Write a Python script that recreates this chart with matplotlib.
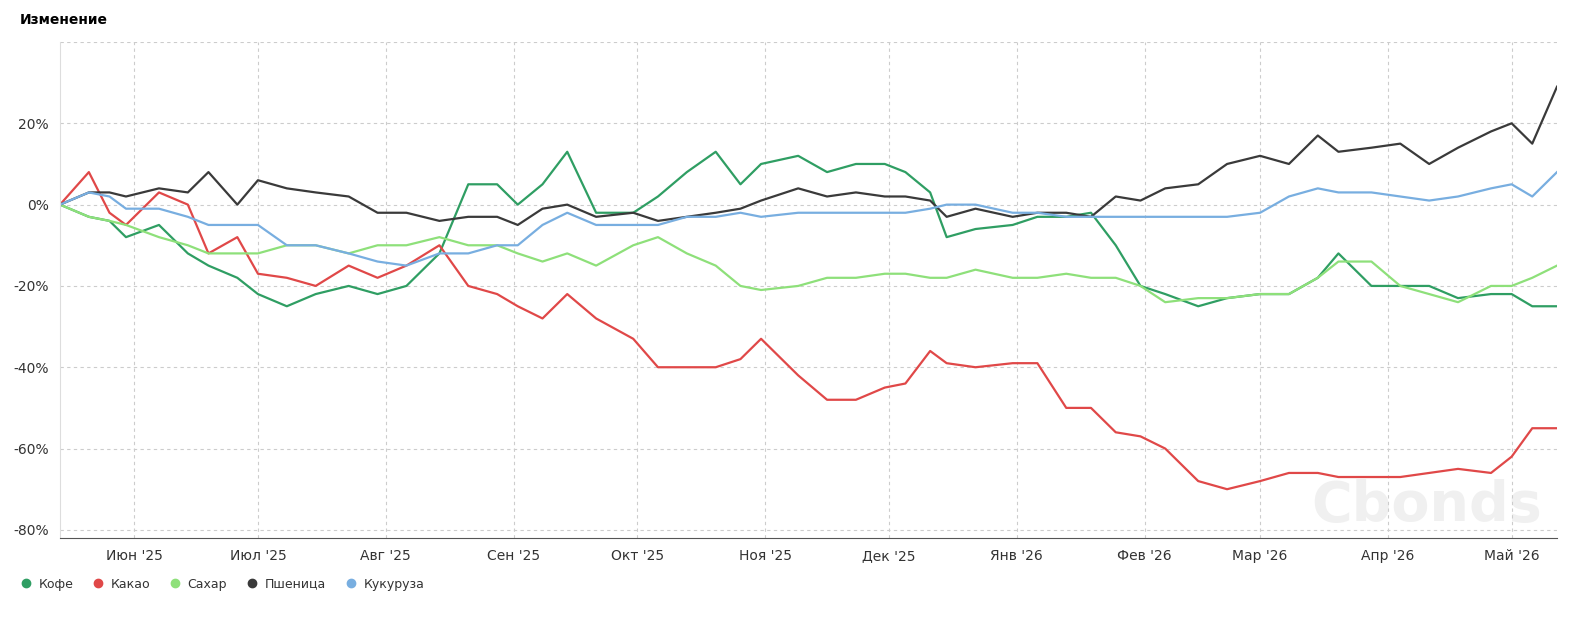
import matplotlib
matplotlib.use('Agg')
import matplotlib.pyplot as plt
from matplotlib.lines import Line2D
import pandas as pd

# data ==================================================================
dates = ['2025-05-14','2025-05-21','2025-05-26','2025-05-30','2025-06-07','2025-06-14',
         '2025-06-19','2025-06-26','2025-07-01','2025-07-08','2025-07-15','2025-07-23',
         '2025-07-30','2025-08-06','2025-08-14','2025-08-21','2025-08-28','2025-09-02',
         '2025-09-08','2025-09-14','2025-09-21','2025-09-30','2025-10-06','2025-10-13',
         '2025-10-20','2025-10-26','2025-10-31','2025-11-09','2025-11-16','2025-11-23',
         '2025-11-30','2025-12-05','2025-12-11','2025-12-15','2025-12-22','2025-12-31',
         '2026-01-06','2026-01-13','2026-01-19','2026-01-25','2026-01-31','2026-02-06',
         '2026-02-14','2026-02-21','2026-03-01','2026-03-08','2026-03-15','2026-03-20',
         '2026-03-28','2026-04-04','2026-04-11','2026-04-18','2026-04-26','2026-05-01',
         '2026-05-06','2026-05-12']
coffee = [0,-3,-4,-8,-5,-12,-15,-18,-22,-25, -22,-20,-22,-20,-12,5,5,0,5,13,
          -2,-2,2,8,13,5,10,12,8,10, 10,8,3,-8,-6,-5,-3,-3,-2,-10,
          -20,-22,-25,-23,-22,-22,-18,-12,-20,-20, -20,-23,-22,-22,-25,-25]
cocoa = [0,8,-2,-5,3,0,-12,-8,-17,-18, -20,-15,-18,-15,-10,-20,-22,-25,-28,-22,
         -28,-33,-40,-40,-40,-38,-33,-42,-48,-48, -45,-44,-36,-39,-40,-39,-39,-50,-50,-56,
         -57,-60,-68,-70,-68,-66,-66,-67,-67,-67, -66,-65,-66,-62,-55,-55]
sugar = [0,-3,-4,-5,-8,-10,-12,-12,-12,-10, -10,-12,-10,-10,-8,-10,-10,-12,-14,-12,
         -15,-10,-8,-12,-15,-20,-21,-20,-18,-18, -17,-17,-18,-18,-16,-18,-18,-17,-18,-18,
         -20,-24,-23,-23,-22,-22,-18,-14,-14,-20, -22,-24,-20,-20,-18,-15]
wheat = [0,3,3,2,4,3,8,0,6,4, 3,2,-2,-2,-4,-3,-3,-5,-1,0,
         -3,-2,-4,-3,-2,-1,1,4,2,3, 2,2,1,-3,-1,-3,-2,-2,-3,2,
         1,4,5,10,12,10,17,13,14,15, 10,14,18,20,15,29]
corn = [0,3,2,-1,-1,-3,-5,-5,-5,-10, -10,-12,-14,-15,-12,-12,-10,-10,-5,-2,
        -5,-5,-5,-3,-3,-2,-3,-2,-2,-2, -2,-2,-1,0,0,-2,-2,-3,-3,-3,
        -3,-3,-3,-3,-2,2,4,3,3,2, 1,2,4,5,2,8]
names = ['Кофе', 'Какао', 'Сахар', 'Пшеница', 'Кукуруза']
colors = ['#2f9e63', '#e04848', '#8ee07a', '#3a3a3a', '#78aee0']
months = ['Июн \'25','Июл \'25','Авг \'25','Сен \'25','Окт \'25','Ноя \'25','Дек \'25',
          'Янв \'26','Фев \'26','Мар \'26','Апр \'26','Май \'26']

# plotting ==============================================================
x = pd.to_datetime(dates)
fig = plt.figure(figsize=(15.88, 6.32), dpi=100)
ax = fig.add_axes([60/1588, 1-538/632, (1557-60)/1588, (538-42)/632])

for vals, c in zip([coffee, cocoa, sugar, wheat, corn], colors):
    ax.plot(x, vals, color=c, lw=1.6)

ax.set_ylim(-82, 40)
ax.set_xlim(pd.Timestamp('2025-05-14'), pd.Timestamp('2026-05-12'))
ax.set_yticks([-80, -60, -40, -20, 0, 20, 40])
ax.set_yticklabels(['-80%', '-60%', '-40%', '-20%', '0%', '20%', ''])
ax.set_xticks(pd.date_range('2025-06-01', '2026-05-01', freq='MS'))
ax.set_xticklabels(months)
ax.tick_params(labelsize=10, colors='#333333', length=0, pad=8)
ax.grid(True, ls=(0, (3, 3)), color='#cccccc', lw=0.8)
for s in ['top', 'right']:
    ax.spines[s].set_visible(False)
ax.spines['left'].set_color('#dddddd')
ax.spines['bottom'].set_color('#555555')

fig.text(20/1588, 1-20/632, 'Изменение', fontsize=10, fontweight='bold', va='center')
ax.text(0.99, 0.01, 'Cbonds', transform=ax.transAxes, fontsize=40, fontweight='bold',
        color='#f0f0f0', ha='right', va='bottom', zorder=0)

handles = [Line2D([], [], marker='o', ls='', color=c, markersize=6) for c in colors]
leg = fig.legend(handles, names, loc='lower left', bbox_to_anchor=(2/1588, 1-602/632),
                 ncol=5, frameon=False, fontsize=9, handletextpad=0.0, columnspacing=1.0)
for t in leg.get_texts():
    t.set_color('#333333')

fig.savefig('out.png', dpi=100)
